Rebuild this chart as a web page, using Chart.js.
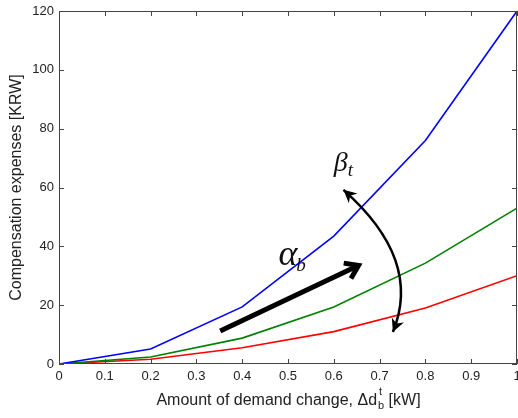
<!DOCTYPE html>
<html>
<head>
<meta charset="utf-8">
<script src="https://cdn.jsdelivr.net/npm/chart.js@4"></script>
<style>
  html, body { margin: 0; padding: 0; background: #fff; }
</style>
</head>
<body>
<canvas id="chart" width="518" height="418"></canvas>
<script>
// data
const demandChange = [0, 0.2, 0.4, 0.6, 0.8, 1.0];
const blueCost  = [0, 5.1, 19.4, 43.5, 76, 120];
const greenCost = [0, 2.4, 8.8, 19.4, 34.3, 53];
const redCost   = [0, 1.6, 5.5, 11, 19, 30];
const xTickValues = [0, 0.1, 0.2, 0.3, 0.4, 0.5, 0.6, 0.7, 0.8, 0.9, 1];
const yTickValues = [0, 20, 40, 60, 80, 100, 120];

const sans = '"Liberation Sans", Arial, sans-serif';
const serif = '"Liberation Serif", "Times New Roman", serif';

function toPoints(ys) {
    return demandChange.map((x, i) => ({ x: x, y: ys[i] }));
}

// arrow + greek labels, box and inward ticks
const decorPlugin = {
    id: 'decor',
    afterDatasetsDraw(chart) {
        const { ctx, chartArea: a, scales } = chart;
        const sx = scales.x, sy = scales.y;
        const px = (x, y) => [sx.getPixelForValue(x), sy.getPixelForValue(y)];
        ctx.save();

        // frame
        ctx.strokeStyle = '#444';
        ctx.lineWidth = 1;
        ctx.strokeRect(a.left + 0.5, a.top + 0.5, a.right - a.left - 1, a.bottom - a.top - 1);

        // tick marks pointing inside, on all four sides
        const len = 5;
        ctx.beginPath();
        sx.ticks.forEach(t => {
            const p = Math.round(sx.getPixelForValue(t.value)) + 0.5;
            ctx.moveTo(p, a.bottom); ctx.lineTo(p, a.bottom - len);
            ctx.moveTo(p, a.top); ctx.lineTo(p, a.top + len);
        });
        sy.ticks.forEach(t => {
            const p = Math.round(sy.getPixelForValue(t.value)) + 0.5;
            ctx.moveTo(a.left, p); ctx.lineTo(a.left + len, p);
            ctx.moveTo(a.right, p); ctx.lineTo(a.right - len, p);
        });
        ctx.stroke();

        // straight thick arrow (alpha_b direction)
        const s0 = px(0.352, 11.2), s1 = px(0.654, 33.5);
        const ang = Math.atan2(s1[1] - s0[1], s1[0] - s0[0]);
        ctx.strokeStyle = '#000';
        ctx.lineWidth = 5;
        ctx.lineCap = 'butt';
        ctx.beginPath();
        ctx.moveTo(s0[0], s0[1]);
        ctx.lineTo(s1[0] - 3 * Math.cos(ang), s1[1] - 3 * Math.sin(ang));
        ctx.stroke();
        ctx.lineJoin = 'miter';
        ctx.beginPath();
        const hl = 15, ha = 0.6;
        ctx.moveTo(s1[0] - hl * Math.cos(ang - ha), s1[1] - hl * Math.sin(ang - ha));
        ctx.lineTo(s1[0], s1[1]);
        ctx.lineTo(s1[0] - hl * Math.cos(ang + ha), s1[1] - hl * Math.sin(ang + ha));
        ctx.stroke();

        // curved double arrow (beta_t)
        const c0 = px(0.621, 59.2), cc = px(0.794, 35.4), c2 = px(0.729, 10.9);
        ctx.lineWidth = 2.5;
        ctx.beginPath();
        ctx.moveTo(c0[0], c0[1]);
        ctx.quadraticCurveTo(cc[0], cc[1], c2[0], c2[1]);
        ctx.stroke();
        function head(tip, from) {
            const an = Math.atan2(tip[1] - from[1], tip[0] - from[0]);
            const L = 13, W = 6.5;
            const bx = tip[0] - L * Math.cos(an), by = tip[1] - L * Math.sin(an);
            const nx = tip[0] - (L - 4) * Math.cos(an), ny = tip[1] - (L - 4) * Math.sin(an);
            ctx.beginPath();
            ctx.moveTo(tip[0], tip[1]);
            ctx.lineTo(bx + W * Math.sin(an), by - W * Math.cos(an));
            ctx.lineTo(nx, ny);
            ctx.lineTo(bx - W * Math.sin(an), by + W * Math.cos(an));
            ctx.closePath();
            ctx.fill();
        }
        ctx.fillStyle = '#000';
        head(c0, cc);
        head(c2, cc);

        // greek labels
        ctx.fillStyle = '#111';
        ctx.textAlign = 'left';
        ctx.textBaseline = 'alphabetic';
        const al = px(0.479, 33.7);
        ctx.font = 'italic 36px ' + serif;
        ctx.fillText('\u03b1', al[0], al[1]);
        const aw = ctx.measureText('\u03b1').width;
        ctx.font = 'italic 19px ' + serif;
        ctx.fillText('b', al[0] + aw - 1, al[1] + 6);

        const be = px(0.600, 65.6);
        ctx.font = 'italic 28px ' + serif;
        ctx.fillText('\u03b2', be[0], be[1]);
        const bw = ctx.measureText('\u03b2').width;
        ctx.font = 'italic 19px ' + serif;
        ctx.fillText('t', be[0] + bw, be[1] + 5);

        // axis titles
        ctx.fillStyle = '#222';
        ctx.font = '16px ' + sans;
        const part1 = 'Amount of demand change, \u0394d';
        const part3 = ' [kW]';
        const w1 = ctx.measureText(part1).width;
        const w3 = ctx.measureText(part3).width;
        ctx.font = '11px ' + sans;
        const ws = ctx.measureText('b').width;
        const cx = (a.left + a.right) / 2;
        const start = cx - (w1 + ws + w3) / 2;
        const base = 405;
        ctx.font = '16px ' + sans;
        ctx.fillText(part1, start, base);
        ctx.fillText(part3, start + w1 + ws + 1, base);
        ctx.font = '11px ' + sans;
        ctx.fillText('b', start + w1 + 1, base + 4);
        ctx.fillText('t', start + w1 + 2, base - 10);

        ctx.font = '16px ' + sans;
        ctx.translate(21, (a.top + a.bottom) / 2);
        ctx.rotate(-Math.PI / 2);
        ctx.textAlign = 'center';
        ctx.fillText('Compensation expenses [KRW]', 0, 0);

        ctx.restore();
    }
};

new Chart(document.getElementById('chart'), {
    type: 'line',
    data: {
        datasets: [
            { data: toPoints(blueCost),  borderColor: '#0000ff', borderWidth: 1.6 },
            { data: toPoints(greenCost), borderColor: '#008000', borderWidth: 1.6 },
            { data: toPoints(redCost),   borderColor: '#ff0000', borderWidth: 1.6 }
        ]
    },
    options: {
        responsive: false,
        animation: false,
        devicePixelRatio: 1,
        layout: { padding: { top: 11, right: 1, left: 0, bottom: 0 } },
        elements: { point: { radius: 0 }, line: { tension: 0, fill: false } },
        plugins: { legend: { display: false }, tooltip: { enabled: false } },
        scales: {
            x: {
                type: 'linear',
                min: 0, max: 1,
                grid: { display: false, drawTicks: false },
                border: { display: false },
                afterBuildTicks: s => { s.ticks = xTickValues.map(v => ({ value: v })); },
                ticks: {
                    padding: 5,
                    color: '#222',
                    font: { family: sans, size: 13 },
                    maxRotation: 0,
                    autoSkip: false,
                    callback: v => String(v)
                },
                afterFit: s => { s.height = 54; s.paddingLeft = 0; s.paddingRight = 0; }
            },
            y: {
                min: 0, max: 120,
                grid: { display: false, drawTicks: false },
                border: { display: false },
                afterBuildTicks: s => { s.ticks = yTickValues.map(v => ({ value: v })); },
                ticks: {
                    padding: 5,
                    color: '#222',
                    font: { family: sans, size: 13 },
                    callback: v => String(v)
                },
                afterFit: s => { s.width = 59; s.paddingTop = 0; s.paddingBottom = 0; }
            }
        }
    },
    plugins: [decorPlugin]
});
</script>
</body>
</html>
